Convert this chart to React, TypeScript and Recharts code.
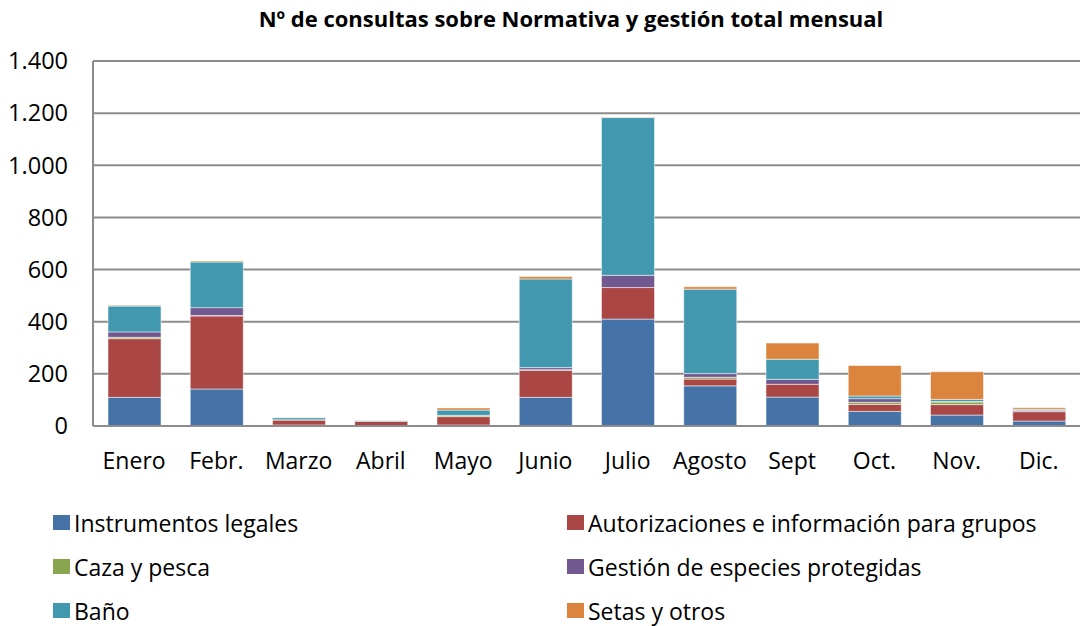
import React from 'react';
import { BarChart, Bar, XAxis, YAxis, CartesianGrid } from 'recharts';

const months = ['Enero', 'Febr.', 'Marzo', 'Abril', 'Mayo', 'Junio', 'Julio', 'Agosto', 'Sept', 'Oct.', 'Nov.', 'Dic.'];
const instrumentos = [110, 142, 4, 2, 4, 110, 410, 154, 111, 56, 42, 19];
const autorizaciones = [225, 280, 19, 16, 32, 104, 121, 26, 49, 27, 40, 36];
const caza = [5, 2, 0, 0, 5, 2, 0, 7, 0, 8, 10, 1];
const especies = [21, 30, 1, 0, 0, 8, 47, 14, 19, 14, 2, 4];
const bano = [99, 175, 8, 2, 20, 340, 605, 324, 77, 10, 8, 4];
const setas = [3, 4, 1, 0, 8, 9, 2, 9, 62, 117, 106, 6];
const yTicks = [0, 200, 400, 600, 800, 1000, 1200, 1400];

const series = [
  { key: 'instrumentos', name: 'Instrumentos legales', color: '#4572A7' },
  { key: 'autorizaciones', name: 'Autorizaciones e información para grupos', color: '#AA4643' },
  { key: 'caza', name: 'Caza y pesca', color: '#89A54E' },
  { key: 'especies', name: 'Gestión de especies protegidas', color: '#71588F' },
  { key: 'bano', name: 'Baño', color: '#4198AF' },
  { key: 'setas', name: 'Setas y otros', color: '#DB843D' },
];

const data = months.map((m, i) => ({
  month: m,
  instrumentos: instrumentos[i],
  autorizaciones: autorizaciones[i],
  caza: caza[i],
  especies: especies[i],
  bano: bano[i],
  setas: setas[i],
}));

const font = '"Open Sans", Lato, sans-serif';

// 1400 -> "1.400"
const fmt = (v: number) => String(v).replace(/\B(?=(\d{3})+(?!\d))/g, '.');

export default function App() {
  return (
    <div style={{ position: 'absolute', left: 0, top: 0, width: 1082, height: 626, background: '#fff', fontFamily: font }}>
      <div style={{ position: 'absolute', top: 3, left: 0, width: 1142, textAlign: 'center', fontWeight: 700, fontSize: 22, color: '#000' }}>
        Nº de consultas sobre Normativa y gestión total mensual
      </div>
      <BarChart
        width={1082}
        height={480}
        data={data}
        margin={{ top: 61, right: 2, left: 0, bottom: 0 }}
        barSize={53}
      >
        <CartesianGrid vertical={false} stroke="#8c8c8c" strokeWidth={2} />
        <XAxis
          dataKey="month"
          height={54}
          tickLine={false}
          tickSize={0}
          tickMargin={27}
          axisLine={{ stroke: '#8c8c8c', strokeWidth: 2 }}
          tick={{ fill: '#000', fontSize: 23, fontFamily: font }}
          interval={0}
        />
        <YAxis
          width={93}
          domain={[0, 1400]}
          ticks={yTicks}
          tickLine={false}
          tickSize={0}
          tickMargin={25}
          axisLine={{ stroke: '#8c8c8c', strokeWidth: 2 }}
          tickFormatter={fmt}
          tick={{ fill: '#000', fontSize: 23.5, fontFamily: font }}
        />
        {series.map(s => (
          <Bar
            key={s.key}
            dataKey={s.key}
            name={s.name}
            stackId="a"
            fill={s.color}
            stroke="#ffffff"
            strokeOpacity={0.5}
            strokeWidth={1}
            isAnimationActive={false}
          />
        ))}
      </BarChart>
      <div style={{ position: 'absolute', top: 507, left: 53, width: 1020, display: 'grid', gridTemplateColumns: '514px 506px', rowGap: 13, fontSize: 23, color: '#000' }}>
        {series.map(s => (
          <div key={s.key} style={{ display: 'flex', alignItems: 'center', height: 31 }}>
            <span style={{ width: 17, height: 15, background: s.color, display: 'inline-block', marginRight: 4 }} />
            <span>{s.name}</span>
          </div>
        ))}
      </div>
    </div>
  );
}
